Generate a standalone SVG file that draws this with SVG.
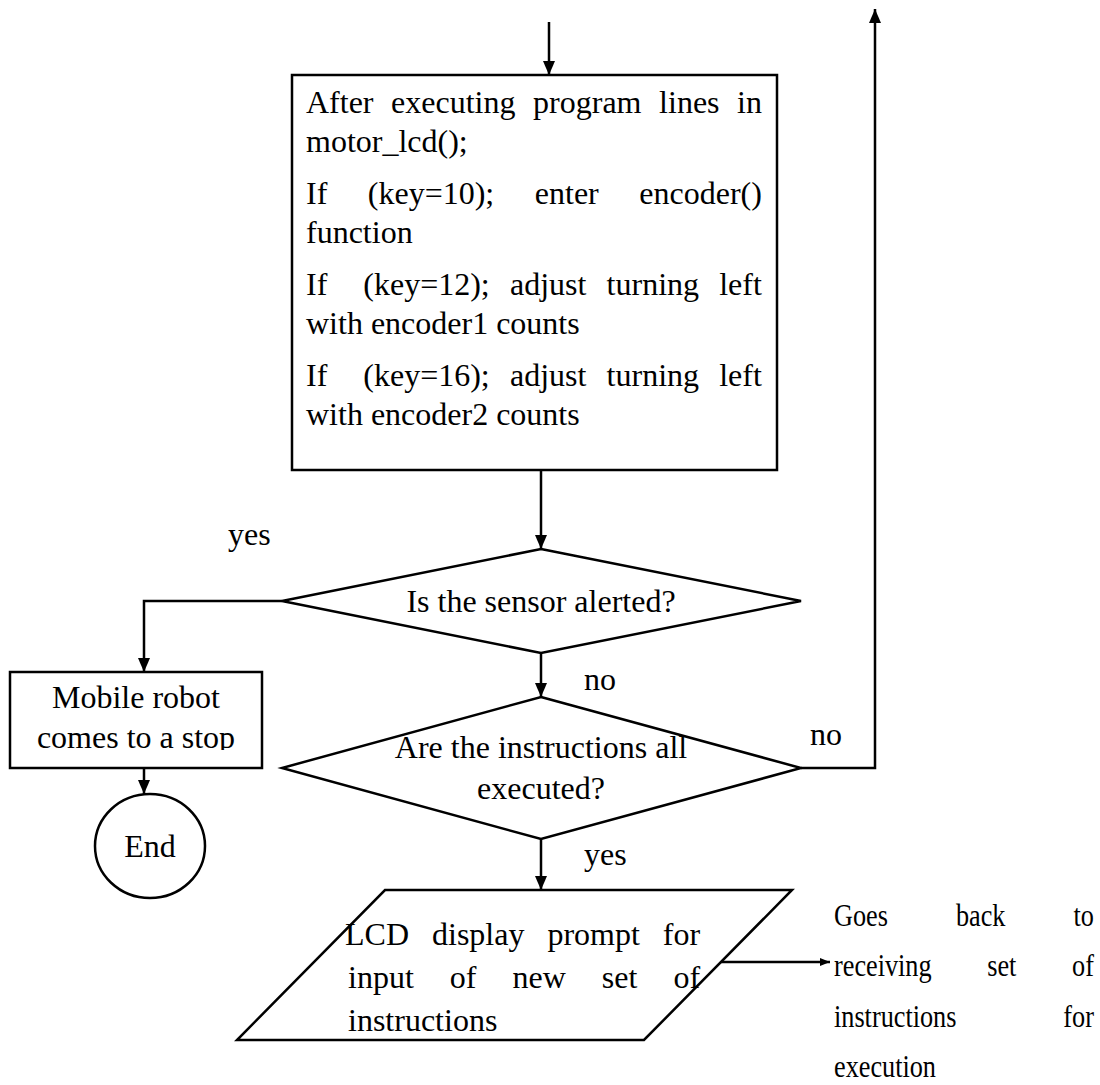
<svg xmlns="http://www.w3.org/2000/svg" width="1100" height="1085" viewBox="0 0 1100 1085">
  <style>
    .shape { fill: #fff; stroke: #000; stroke-width: 2.5; }
    .line { fill: none; stroke: #000; stroke-width: 2.5; }
    text { font-family: "Liberation Serif", "Times New Roman", serif; font-size: 32px; fill: #000; }
    .c { text-anchor: middle; }
  </style>
  <defs>
    <marker id="ah" viewBox="0 0 14 12" refX="14" refY="6" markerWidth="14" markerHeight="12" orient="auto" markerUnits="userSpaceOnUse">
      <path d="M0,0 L14,6 L0,12 z" fill="#000"/>
    </marker>
    <marker id="ahs" viewBox="0 0 10 8" refX="10" refY="4" markerWidth="10" markerHeight="8" orient="auto" markerUnits="userSpaceOnUse">
      <path d="M0,0 L10,4 L0,8 z" fill="#000"/>
    </marker>
    <clipPath id="stopClip">
      <rect x="10" y="672" width="252" height="78"/>
    </clipPath>
  </defs>

  <!-- connectors -->
  <g id="connectors">
    <line class="line" x1="549" y1="22" x2="549" y2="75" marker-end="url(#ah)"/>
    <line class="line" x1="541" y1="470" x2="541" y2="549" marker-end="url(#ah)"/>
    <polyline class="line" points="282,601 144,601 144,672" marker-end="url(#ah)"/>
    <line class="line" x1="144" y1="768" x2="144" y2="794" marker-end="url(#ah)"/>
    <line class="line" x1="541" y1="653" x2="541" y2="697" marker-end="url(#ah)"/>
    <polyline class="line" points="801,768 875,768 875,9" marker-end="url(#ah)"/>
    <line class="line" x1="541" y1="839" x2="541" y2="890" marker-end="url(#ah)"/>
    <line class="line" x1="721" y1="962" x2="830" y2="962" stroke-width="2" marker-end="url(#ahs)"/>
    <text x="228" y="545">yes</text>
    <text x="584" y="690">no</text>
    <text x="810" y="745">no</text>
    <text x="584" y="865">yes</text>
  </g>

  <!-- process box -->
  <g id="process">
    <rect class="shape" x="292" y="75" width="485" height="395"/>
    <text y="113"><tspan x="306">After</tspan><tspan x="391.1">executing</tspan><tspan x="533.1">program</tspan><tspan x="659.1">lines</tspan><tspan x="737.1">in</tspan></text>
    <text x="306" y="152">motor_lcd();</text>
    <text y="204"><tspan x="306">If</tspan><tspan x="367.8">(key=10);</tspan><tspan x="534.8">enter</tspan><tspan x="639.3">encoder()</tspan></text>
    <text x="306" y="243">function</text>
    <text y="295"><tspan x="306">If</tspan><tspan x="363.3">(key=12);</tspan><tspan x="510">adjust</tspan><tspan x="606.6">turning</tspan><tspan x="719.2">left</tspan></text>
    <text x="306" y="334">with encoder1 counts</text>
    <text y="386"><tspan x="306">If</tspan><tspan x="363.3">(key=16);</tspan><tspan x="510">adjust</tspan><tspan x="606.6">turning</tspan><tspan x="719.2">left</tspan></text>
    <text x="306" y="425">with encoder2 counts</text>
  </g>

  <!-- decision: sensor -->
  <g id="sensor">
    <polygon class="shape" points="541,549 801,601 541,653 282,601"/>
    <text class="c" x="541" y="612">Is the sensor alerted?</text>
  </g>

  <!-- stop box -->
  <g id="stop">
    <rect class="shape" x="10" y="672" width="252" height="96"/>
    <text class="c" x="136" y="708">Mobile robot</text>
    <text class="c" x="136" y="748" clip-path="url(#stopClip)">comes to a stop</text>
  </g>

  <!-- terminator -->
  <g id="end">
    <ellipse class="shape" cx="150" cy="846" rx="55" ry="52"/>
    <text class="c" x="150" y="857">End</text>
  </g>

  <!-- decision: instructions done -->
  <g id="done">
    <polygon class="shape" points="541,697 801,768 541,839 282,768"/>
    <text class="c" x="541" y="758">Are the instructions all</text>
    <text class="c" x="541" y="799">executed?</text>
  </g>

  <!-- display prompt -->
  <g id="prompt">
    <polygon class="shape" points="385,890 792,890 644,1040 237,1040"/>
    <text y="945"><tspan x="345">LCD</tspan><tspan x="432">display</tspan><tspan x="547.4">prompt</tspan><tspan x="662.8">for</tspan></text>
    <text y="988"><tspan x="348">input</tspan><tspan x="449.8">of</tspan><tspan x="512.5">new</tspan><tspan x="601.8">set</tspan><tspan x="673.4">of</tspan></text>
    <text x="348" y="1031">instructions</text>
  </g>

  <!-- return note (narrow lettering) -->
  <g id="note" transform="translate(834 0) scale(0.82 1)">
    <text y="926"><tspan x="0">Goes</tspan><tspan x="148.75">back</tspan><tspan x="292.1">to</tspan></text>
    <text y="976"><tspan x="0">receiving</tspan><tspan x="186.9">set</tspan><tspan x="290.3">of</tspan></text>
    <text y="1027"><tspan x="0">instructions</tspan><tspan x="279.7">for</tspan></text>
    <text x="0" y="1077">execution</text>
  </g>
</svg>
